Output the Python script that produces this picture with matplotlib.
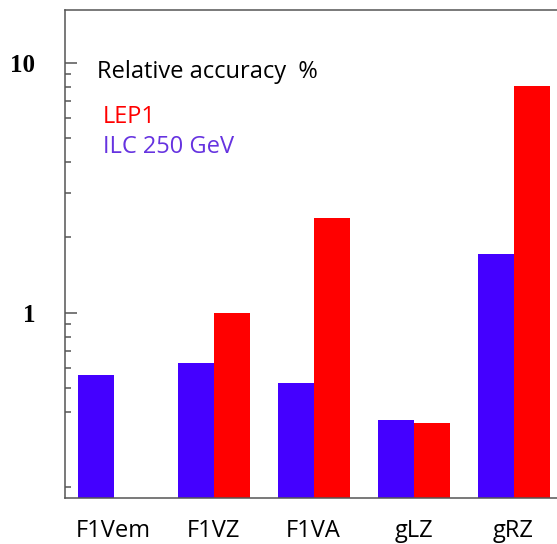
import matplotlib
matplotlib.use("Agg")
import matplotlib.pyplot as plt
from matplotlib.ticker import FixedLocator, NullFormatter, FixedFormatter
import numpy as np

categories = ["F1Vem", "F1VZ", "F1VA", "gLZ", "gRZ"]
ilc250 = [0.565, 0.63, 0.525, 0.373, 1.71]
lep1 = [np.nan, 1.0, 2.40, 0.363, 8.1]
major_ticks = [1, 10]
major_labels = ["1", "10"]
minor_ticks = [0.2, 0.4, 0.5, 0.6, 0.7, 0.8, 0.9, 2, 3, 4, 5, 6, 7, 8, 9]

W, H = 557, 544
fig = plt.figure(figsize=(W / 100, H / 100), dpi=100)
left_px, right_px, top_px, bot_px = 65, 600, 10, 497.7
ax = fig.add_axes([left_px / W, 1 - bot_px / H, (right_px - left_px) / W, (bot_px - top_px) / H])

x = np.arange(len(categories))
bw = 0.355
blue = "#4400ff"
red = "#ff0000"
ax.bar(x - bw, ilc250, width=bw, align="edge", color=blue, edgecolor="none")
ax.bar(x, lep1, width=bw * 1.02, align="edge", color=red, edgecolor="none")

ax.set_yscale("log")
ax.set_ylim(0.182, 16.25)
ax.set_xlim(-0.485, -0.485 + (right_px - left_px) / 100)

spine_c = "#555555"
for s in ax.spines.values():
    s.set_color(spine_c)
    s.set_linewidth(1.1)

ax.yaxis.set_major_locator(FixedLocator(major_ticks))
ax.yaxis.set_major_formatter(FixedFormatter(major_labels))
ax.yaxis.set_minor_locator(FixedLocator(minor_ticks))
ax.yaxis.set_minor_formatter(NullFormatter())
ax.tick_params(axis="y", which="major", direction="in", length=8.6, width=1.1,
               color=spine_c, pad=21.5)
ax.tick_params(axis="y", which="minor", direction="in", length=4.3, width=1.1,
               color=spine_c)
for lab in ax.get_yticklabels():
    lab.set_fontfamily("Liberation Serif")
    lab.set_fontweight("bold")
    lab.set_fontsize(18)

ax.set_xticks(x)
ax.set_xticklabels(categories, fontfamily="Open Sans", fontsize=17)
ax.tick_params(axis="x", length=0, pad=15.5)

fs = 17
fig.text(97 / W, 1 - 78.3 / H, "Relative accuracy  %", fontfamily="Open Sans",
         fontsize=fs, color="black", va="baseline", ha="left")
fig.text(103 / W, 1 - 123.3 / H, "LEP1", fontfamily="Open Sans",
         fontsize=fs, color=red, va="baseline", ha="left")
fig.text(103 / W, 1 - 153.3 / H, "ILC 250 GeV", fontfamily="Open Sans",
         fontsize=fs, color="#6633e0", va="baseline", ha="left")

fig.savefig("out.png", dpi=100)
